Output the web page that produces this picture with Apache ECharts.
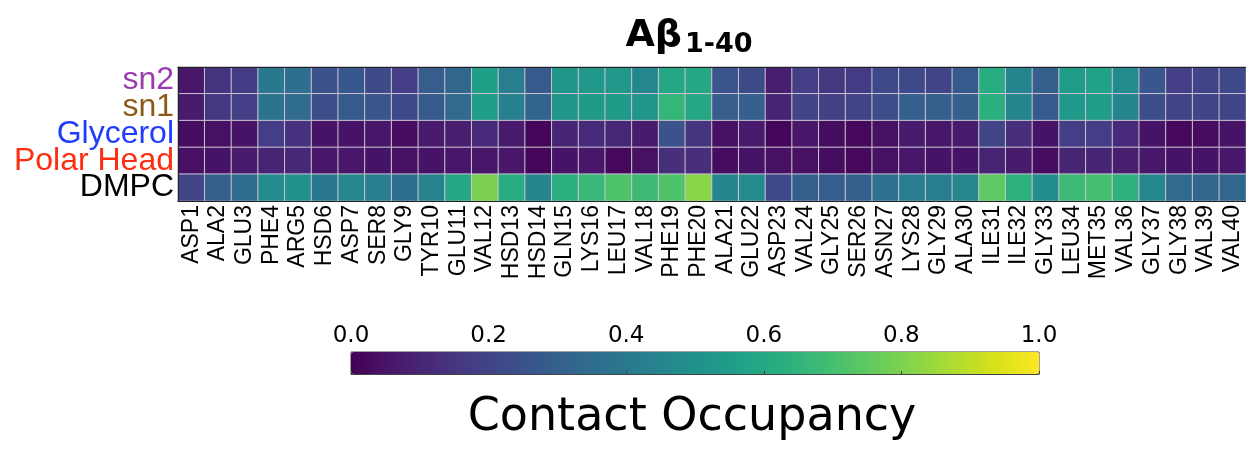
<!DOCTYPE html>
<html>
<head>
<meta charset="utf-8">
<script src="https://cdn.jsdelivr.net/npm/echarts@6/dist/echarts.min.js"></script>
<style>html,body{margin:0;padding:0;background:#fff;}#c{width:1246px;height:453px;}</style>
</head>
<body>
<div id="c"></div>
<script>
const residues = ['ASP1','ALA2','GLU3','PHE4','ARG5','HSD6','ASP7','SER8','GLY9','TYR10','GLU11','VAL12','HSD13','HSD14','GLN15','LYS16','LEU17','VAL18','PHE19','PHE20','ALA21','GLU22','ASP23','VAL24','GLY25','SER26','ASN27','LYS28','GLY29','ALA30','ILE31','ILE32','GLY33','LEU34','MET35','VAL36','GLY37','GLY38','VAL39','VAL40'];
const groups = ['sn2','sn1','Glycerol','Polar Head','DMPC'];
const groupColors = ['#9a3cae','#8c5a16','#1f3dff','#ff2d0f','#000000'];

const sn2 =       [0.06,0.15,0.17,0.40,0.36,0.25,0.27,0.23,0.18,0.29, 0.33,0.56,0.42,0.28,0.52,0.53,0.53,0.46,0.60,0.60, 0.26,0.23,0.08,0.18,0.16,0.17,0.22,0.22,0.20,0.28, 0.62,0.45,0.30,0.55,0.57,0.47,0.27,0.18,0.20,0.22];
const sn1 =       [0.07,0.16,0.18,0.38,0.35,0.24,0.28,0.26,0.22,0.28, 0.34,0.55,0.43,0.32,0.52,0.54,0.54,0.52,0.66,0.60, 0.29,0.30,0.10,0.20,0.19,0.20,0.24,0.30,0.30,0.30, 0.63,0.45,0.28,0.53,0.55,0.45,0.24,0.20,0.20,0.20];
const glycerol =  [0.03,0.04,0.05,0.18,0.14,0.05,0.05,0.06,0.03,0.07, 0.08,0.12,0.07,0.01,0.10,0.12,0.11,0.07,0.25,0.15, 0.04,0.07,0.01,0.06,0.03,0.02,0.04,0.07,0.06,0.07, 0.20,0.13,0.05,0.18,0.18,0.12,0.05,0.02,0.03,0.05];
const polarHead = [0.04,0.05,0.07,0.10,0.11,0.06,0.06,0.05,0.04,0.05, 0.06,0.06,0.06,0.01,0.05,0.06,0.02,0.04,0.13,0.13, 0.03,0.05,0.04,0.04,0.03,0.02,0.04,0.06,0.05,0.05, 0.10,0.07,0.03,0.10,0.10,0.08,0.06,0.05,0.05,0.06];
const dmpc =      [0.20,0.30,0.35,0.48,0.50,0.40,0.46,0.42,0.36,0.44, 0.60,0.80,0.62,0.45,0.63,0.67,0.72,0.68,0.72,0.82, 0.45,0.47,0.22,0.30,0.29,0.30,0.37,0.42,0.42,0.46, 0.75,0.64,0.48,0.68,0.70,0.64,0.46,0.34,0.33,0.33];
const rows = [sn2, sn1, glycerol, polarHead, dmpc];
const colorbarTicks = [0, 0.2, 0.4, 0.6, 0.8, 1.0];

const viridis = ['#440154','#48186a','#472d7b','#424086','#3b528b','#33638d','#2c728e','#26828e','#21918c','#1fa088','#28ae80','#3fbc73','#5ec962','#84d44b','#addc30','#d8e219','#fde725'];

const data = [];
rows.forEach((r, yi) => r.forEach((v, xi) => data.push([xi, yi, v])));

const chart = echarts.init(document.getElementById('c'), null, {renderer: 'canvas'});
chart.setOption({
  animation: false,
  backgroundColor: '#ffffff',
  title: [{
    text: '{a|Aβ}{s|1-40}',
    left: 689, top: 14, padding: 0, textAlign: 'center',
    textStyle: {
      rich: {
        a: {fontFamily: 'DejaVu Sans', fontWeight: 'bold', fontSize: 38, color: '#000', lineHeight: 44},
        s: {fontFamily: 'DejaVu Sans', fontWeight: 'bold', fontSize: 27, color: '#000', padding: [0, 0, 0, 3], verticalAlign: 'bottom'}
      }
    }
  }, {
    text: 'Contact Occupancy',
    left: 692, top: 395, padding: 0, textAlign: 'center',
    textStyle: {fontFamily: 'DejaVu Sans', fontWeight: 'normal', fontSize: 46, color: '#000'}
  }],
  grid: [
    {left: 178, top: 67, width: 1076, height: 134},
    {left: 351, top: 352, width: 688, height: 22, show: true, borderColor: '#444', borderWidth: 1, backgroundColor: 'transparent'}
  ],
  xAxis: [{
    gridIndex: 0, type: 'category', data: residues, position: 'bottom', z: 10,
    axisLine: {show: true, lineStyle: {color: '#222', width: 1}},
    axisTick: {show: false},
    axisLabel: {rotate: 90, interval: 0, fontFamily: 'Liberation Sans', fontSize: 23, color: '#000', margin: 4},
    splitLine: {show: false}
  }, {
    gridIndex: 0, type: 'category', data: residues, position: 'top', z: 10,
    axisLine: {show: true, lineStyle: {color: '#222', width: 1}},
    axisTick: {show: false}, axisLabel: {show: false}, splitLine: {show: false}
  }, {
    gridIndex: 1, type: 'value', min: 0, max: 1, interval: 0.2, position: 'top', z: 10,
    axisLine: {show: true, lineStyle: {color: '#444', width: 1}},
    axisTick: {show: true, inside: false, length: 3, lineStyle: {color: '#444'}},
    axisLabel: {fontFamily: 'DejaVu Sans', fontSize: 23, color: '#000', margin: 4,
      formatter: v => colorbarTicks.indexOf(v) >= 0 ? v.toFixed(1) : ''},
    splitLine: {show: false}
  }],
  yAxis: [{
    gridIndex: 0, type: 'category', inverse: true, z: 10,
    data: groups.map((g, i) => ({value: g, textStyle: {color: groupColors[i]}})),
    axisLine: {show: true, lineStyle: {color: '#222', width: 1}},
    axisTick: {show: false},
    axisLabel: {interval: 0, fontFamily: 'Liberation Sans', fontSize: 32, margin: 4, lineHeight: 27},
    splitLine: {show: false}
  }, {
    gridIndex: 1, type: 'value', min: 0, max: 1, show: false
  }],
  visualMap: {
    type: 'continuous', min: 0, max: 1, seriesIndex: 0,
    orient: 'horizontal', left: 351, top: 352, padding: 0,
    itemWidth: 22, itemHeight: 688, calculable: false, text: null, showLabel: false,
    inRange: {color: viridis}
  },
  series: [{
    type: 'heatmap', xAxisIndex: 0, yAxisIndex: 0, data: data,
    itemStyle: {borderColor: '#cbc4d4', borderWidth: 1},
    emphasis: {disabled: true}
  }]
});
</script>
</body>
</html>
